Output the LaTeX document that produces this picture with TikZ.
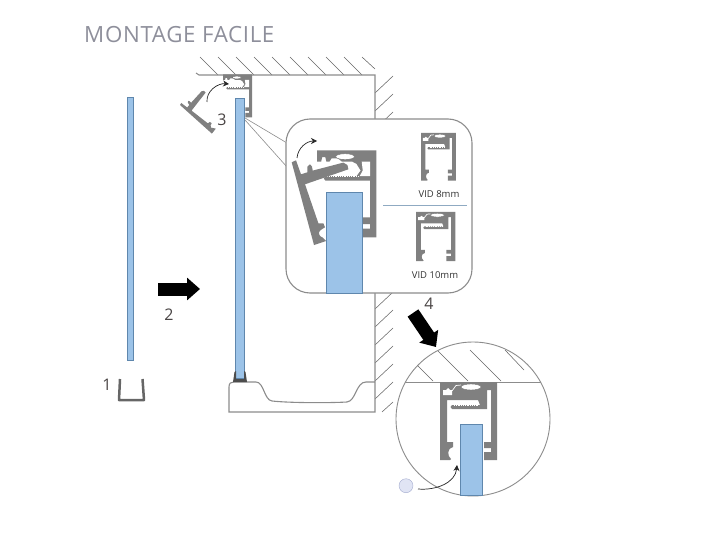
\documentclass[tikz,border=0pt]{standalone}
\usepackage{fontspec}
\setmainfont{Open Sans}
\usetikzlibrary{arrows.meta}
\definecolor{railgrey}{HTML}{808080}
\definecolor{wallgrey}{HTML}{8C8C8C}
\definecolor{glassblue}{HTML}{9CC3E8}
\definecolor{glassedge}{HTML}{5F87AD}
\definecolor{titlegrey}{HTML}{8E8F9B}
\definecolor{numgrey}{HTML}{4A4545}
\definecolor{sealblue}{HTML}{E0E4F4}
\definecolor{sealedge}{HTML}{A4ACCF}
\definecolor{splitblue}{HTML}{8FAAC2}
\tikzset{
  wallline/.style = {draw=wallgrey, line width=1.1pt},
  hatchline/.style = {draw=black!60, line width=.55pt},
  glass/.style = {fill=glassblue, draw=glassedge, line width=.5pt},
  numlabel/.style = {text=numgrey, font=\fontsize{16}{16}\selectfont, inner sep=0pt},
  vidlabel/.style = {text=black!80, font=\fontsize{9.5}{9.5}\selectfont, inner sep=0pt},
  curvearrow/.style = {-{Stealth[length=6pt,width=6pt]}, line width=.7pt, black!85},
  bigarrow/.style = {-{Triangle[length=13pt,width=22pt]}, line width=13pt, black},
  railsec/.pic = {
    \fill[railgrey] (0,0) -- (57,0) -- (57,78) -- (44,78) -- (44,70) -- (51,70)
      -- (51,66) -- (44,66) -- (44,60) -- (51,60) -- (51,8) -- (47,8) -- (47,27)
      -- (12,27) -- (10.5,25) -- (12,23) -- (40,23) -- (38,18) -- (7,18) -- (7,60)
      -- (13,60) -- (13,65) .. controls (7,66) and (7,74) .. (11,77)
      -- (10,78) -- (0,78) -- cycle;
    \fill[white] (3,13) -- (3,8) -- (6,8) -- (8,6) -- (10,8) -- (12,8) -- (12,13) -- cycle;
    \draw[white, line width=.7pt] (12,9) -- (16,3.5) -- (21,3);
    \filldraw[fill=white, draw=black!55, line width=.4pt] (31,5) ellipse (10 and 3);
    \draw[white, line width=.7pt, dash pattern=on .8pt off 1pt] (14,23.2) -- (39,23.2);
  },
  railopen/.pic = {
    \fill[railgrey] (0,0) -- (57,0) -- (57,78) -- (44,78) -- (44,70) -- (51,70)
      -- (51,66) -- (44,66) -- (44,60) -- (51,60) -- (51,27) -- (8,27) -- (6.5,25)
      -- (8,23) -- (38,23) -- (42,18) -- (38,12) -- (34,10) -- (24,10) -- (20,7)
      -- (14,7) -- (12,10) -- (9,10) -- (8,6) -- (5,6) -- (4,10) -- (0,10) -- cycle;
    \fill[white] (43,10) -- (51,10) -- (51,23) -- (41,23) -- (44,18) -- cycle;
    \filldraw[fill=white, draw=black!55, line width=.4pt] (27,5.5) ellipse (9 and 2.6);
    \draw[white, line width=.7pt, dash pattern=on .8pt off 1pt] (10,23.2) -- (40,23.2);
  },
  railclip/.pic = {
    \fill[railgrey] (0,0) -- (4.3,-2) -- (9.3,12) -- (15.7,10) -- (15.7,4.3) -- (18.3,2)
      -- (20.3,4.3) -- (21,8.3) -- (51.7,.3) -- (55.7,2.7) -- (56.7,7) -- (13.3,22)
      -- (26.7,61) -- (31.7,61) -- (33.3,65) -- (29,67.7)
      .. controls (26,70) and (27,74) .. (31,75.3)
      -- (34.3,78.7) -- (22.3,82.7) -- cycle;
  },
}
\begin{document}
\begin{tikzpicture}[x=1pt, y=-1pt]
\useasboundingbox (0,0) rectangle (720,540);
\node[anchor=west, text=titlegrey, font=\fontsize{22.3}{22.3}\addfontfeature{LetterSpace=3}, inner sep=0pt] (title) at (84,35) {MONTAGE FACILE};
% wall and ceiling
\foreach \hx in {200,218,...,344}
  \draw[hatchline] (\hx,57) -- (\hx+18,75);
\draw[hatchline] (362,57) -- (375,69);
\foreach \hy in {93,111,...,399}
  \draw[hatchline] (375,\hy) -- (393,\hy-17);
\draw[hatchline] (382,412) -- (393,402);
\draw[wallline] (196,73) -- (199,75) -- (375,75) -- (375,412) -- (229,412) -- (229,387)
  .. controls (229,383) and (231,382) .. (234,382) -- (256,382)
  .. controls (264,382) and (264,400) .. (272,401)
  .. controls (290,403) and (330,403) .. (347,402)
  .. controls (356,401) and (356,382) .. (366,382) -- (375,382);
% step 1
\draw[glass] (127,97) rectangle (133.5,360);
\draw[draw=black!60, line width=2.5pt, line join=round] (120,379) -- (119,400) -- (144,400) -- (142.5,379);
\node[numlabel] (num1) at (107,385) {1};
% step 2
\coordinate (arrowA) at (158,289);
\coordinate (arrowB) at (200,289);
\draw[bigarrow] (arrowA) -- (arrowB);
\node[numlabel] (num2) at (169,315) {2};
% mounted glass
\draw[glass] (235.5,98) rectangle (244.5,378);
\fill[black!70] (233,382) -- (234.5,372) -- (236,371) -- (236,379) -- (244,379) -- (244,371)
  -- (245.5,372) -- (247,382) -- cycle;
\pic[xscale=.51, yscale=.55] at (223,74.5) {railopen};
\pic[rotate=33, scale=.5] at (180,105) {railclip};
\coordinate (smallA) at (207,102);
\coordinate (smallB) at (229,84);
\draw[curvearrow] (smallA) to[out=95, in=175] (smallB);
\node[numlabel] (num3) at (222,120) {3};
% zoom box
\coordinate (calloutO) at (245,118);
\coordinate (calloutP) at (245,120);
\coordinate (calloutA) at (287,143);
\coordinate (calloutB) at (287,167);
\draw[wallline, line width=.6pt] (calloutO) -- (calloutA);
\draw[wallline, line width=.6pt] (calloutP) -- (calloutB);
\draw[wallline, fill=white, rounded corners=24pt] (286,119) rectangle (472,293);
\draw[glass] (326,192) rectangle (362,293);
\pic[xscale=1.04, yscale=1.115] at (317,150.5) {railopen};
\pic at (291.7,162.3) {railclip};
\coordinate (insetA) at (297,158);
\coordinate (insetB) at (317,141);
\draw[curvearrow] (insetA) to[out=85, in=180] (insetB);
\pic[xscale=.61, yscale=.61] at (421,133) {railsec};
\node[vidlabel] (vid8) at (439,194) {VID 8mm};
\draw[draw=splitblue, line width=.7pt] (383,205) -- (467,205);
\pic[xscale=.69, yscale=.63] at (416,212) {railsec};
\node[vidlabel] (vid10) at (435,275) {VID 10mm};
% step 4
\coordinate (arrowC) at (413,313);
\coordinate (arrowD) at (436,347);
\draw[bigarrow] (arrowC) -- (arrowD);
\node[numlabel] (num4) at (429,304) {4};
\draw[wallline, fill=white, line width=.9pt] (473,419) circle (77);
\begin{scope}
\clip (473,419) circle (77);
\draw[wallline, line width=.9pt] (396,382) -- (550,382);
\draw[hatchline] (417,365) -- (433,381);
\draw[hatchline] (438,351) -- (468,381);
\draw[hatchline] (470,350) -- (501,381);
\draw[hatchline] (505,350) -- (524,370);
\end{scope}
\draw[glass] (460,424) rectangle (482,495.7);
\pic at (440,382) {railsec};
\node[circle, draw=sealedge, fill=sealblue, minimum size=14pt, inner sep=0pt] (seal) at (406,485.7) {};
\coordinate (sealA) at (418,489);
\coordinate (sealB) at (457,465);
\draw[curvearrow] (sealA) to[out=-5, in=-95] (sealB);
\end{tikzpicture}
\end{document}
